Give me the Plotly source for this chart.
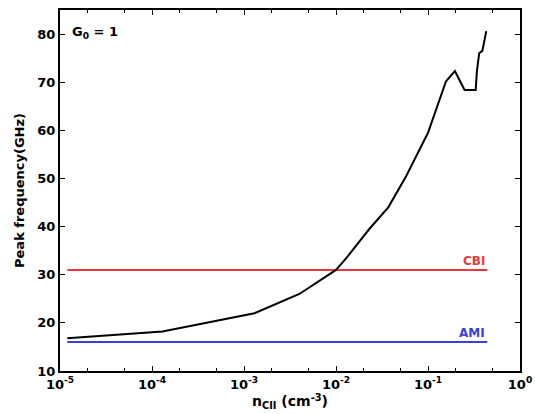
import math
import plotly.graph_objects as go

n_cii = [1.2e-5, 1.3e-4, 1.3e-3, 4.0e-3, 1.0e-2, 1.3e-2, 2.3e-2, 3.7e-2, 5.8e-2, 8.0e-2, 1.0e-1,
         1.57e-1, 1.96e-1, 2.5e-1, 3.3e-1, 3.4e-1, 3.6e-1, 3.9e-1, 4.1e-1, 4.3e-1]
peak_freq = [16.8, 18.2, 22.0, 26.0, 31.0, 33.5, 39.5, 44.0, 50.5, 56.0, 59.5,
             70.2, 72.3, 68.4, 68.4, 72.3, 76.0, 76.5, 79.0, 80.6]
line_x = [1.2e-5, 0.44]
cbi = [31, 31]
ami = [16, 16]
xtick_vals = [1e-5, 1e-4, 1e-3, 1e-2, 1e-1, 1]
xtick_text = ["10<sup>-5</sup>", "10<sup>-4</sup>", "10<sup>-3</sup>", "10<sup>-2</sup>", "10<sup>-1</sup>", "10<sup>0</sup>"]
ytick_vals = [10, 20, 30, 40, 50, 60, 70, 80]
ytick_text = [str(v) for v in ytick_vals]

font = "DejaVu Sans"
red = "#e8383d"
blue = "#3a3fd6"
fig = go.Figure()
fig.add_trace(go.Scatter(x=line_x, y=cbi, mode="lines", line=dict(color=red, width=2), showlegend=False))
fig.add_trace(go.Scatter(x=line_x, y=ami, mode="lines", line=dict(color=blue, width=2), showlegend=False))
fig.add_trace(go.Scatter(x=n_cii, y=peak_freq, mode="lines", line=dict(color="black", width=2), showlegend=False))

fig.add_annotation(x=0, y=1, xref="paper", yref="paper", xanchor="left", yanchor="top", xshift=10, yshift=-12,
                   text="<b>G<sub>0</sub> = 1</b>", showarrow=False, font=dict(size=13, color="black", family=font))
fig.add_annotation(x=math.log10(line_x[1]), y=cbi[0], xref="x", yref="y", xanchor="right", yanchor="bottom",
                   text="<b>CBI</b>", showarrow=False, font=dict(size=12, color=red, family=font))
fig.add_annotation(x=math.log10(line_x[1]), y=ami[0], xref="x", yref="y", xanchor="right", yanchor="bottom",
                   text="<b>AMI</b>", showarrow=False, font=dict(size=12, color=blue, family=font))

fig.update_layout(
    width=535, height=414,
    margin=dict(l=60, r=15, t=10, b=43),
    plot_bgcolor="white", paper_bgcolor="white",
    font=dict(family=font, size=13, color="black", weight="bold"),
)
fig.update_xaxes(type="log", range=[-5, 0], tickvals=xtick_vals,
                 ticktext=["<b>" + t + "</b>" for t in xtick_text], automargin=False,
                 showline=True, linecolor="black", linewidth=2, mirror="ticks",
                 ticks="inside", ticklen=5, tickcolor="black", showgrid=False,
                 minor=dict(ticks="inside", ticklen=3, tickcolor="black", showgrid=False),
                 tickfont=dict(size=13, family=font, weight="bold"),
                 title=dict(text="<b>n<sub>CII</sub> (cm<sup>-3</sup>)</b>", standoff=2, font=dict(size=14)))
fig.update_yaxes(range=[10, 85], tickvals=ytick_vals, ticktext=["<b>" + t + "</b>" for t in ytick_text],
                 automargin=False,
                 showline=True, linecolor="black", linewidth=2, mirror="ticks",
                 ticks="inside", ticklen=5, tickcolor="black", showgrid=False, zeroline=False,
                 tickfont=dict(size=13, family=font, weight="bold"),
                 title=dict(text="<b>Peak frequency(GHz)</b>", standoff=10, font=dict(size=13)))
fig.write_html("out.html", config={"displayModeBar": False},
               post_script="document.body.style.margin='0';document.body.style.overflow='hidden';")
